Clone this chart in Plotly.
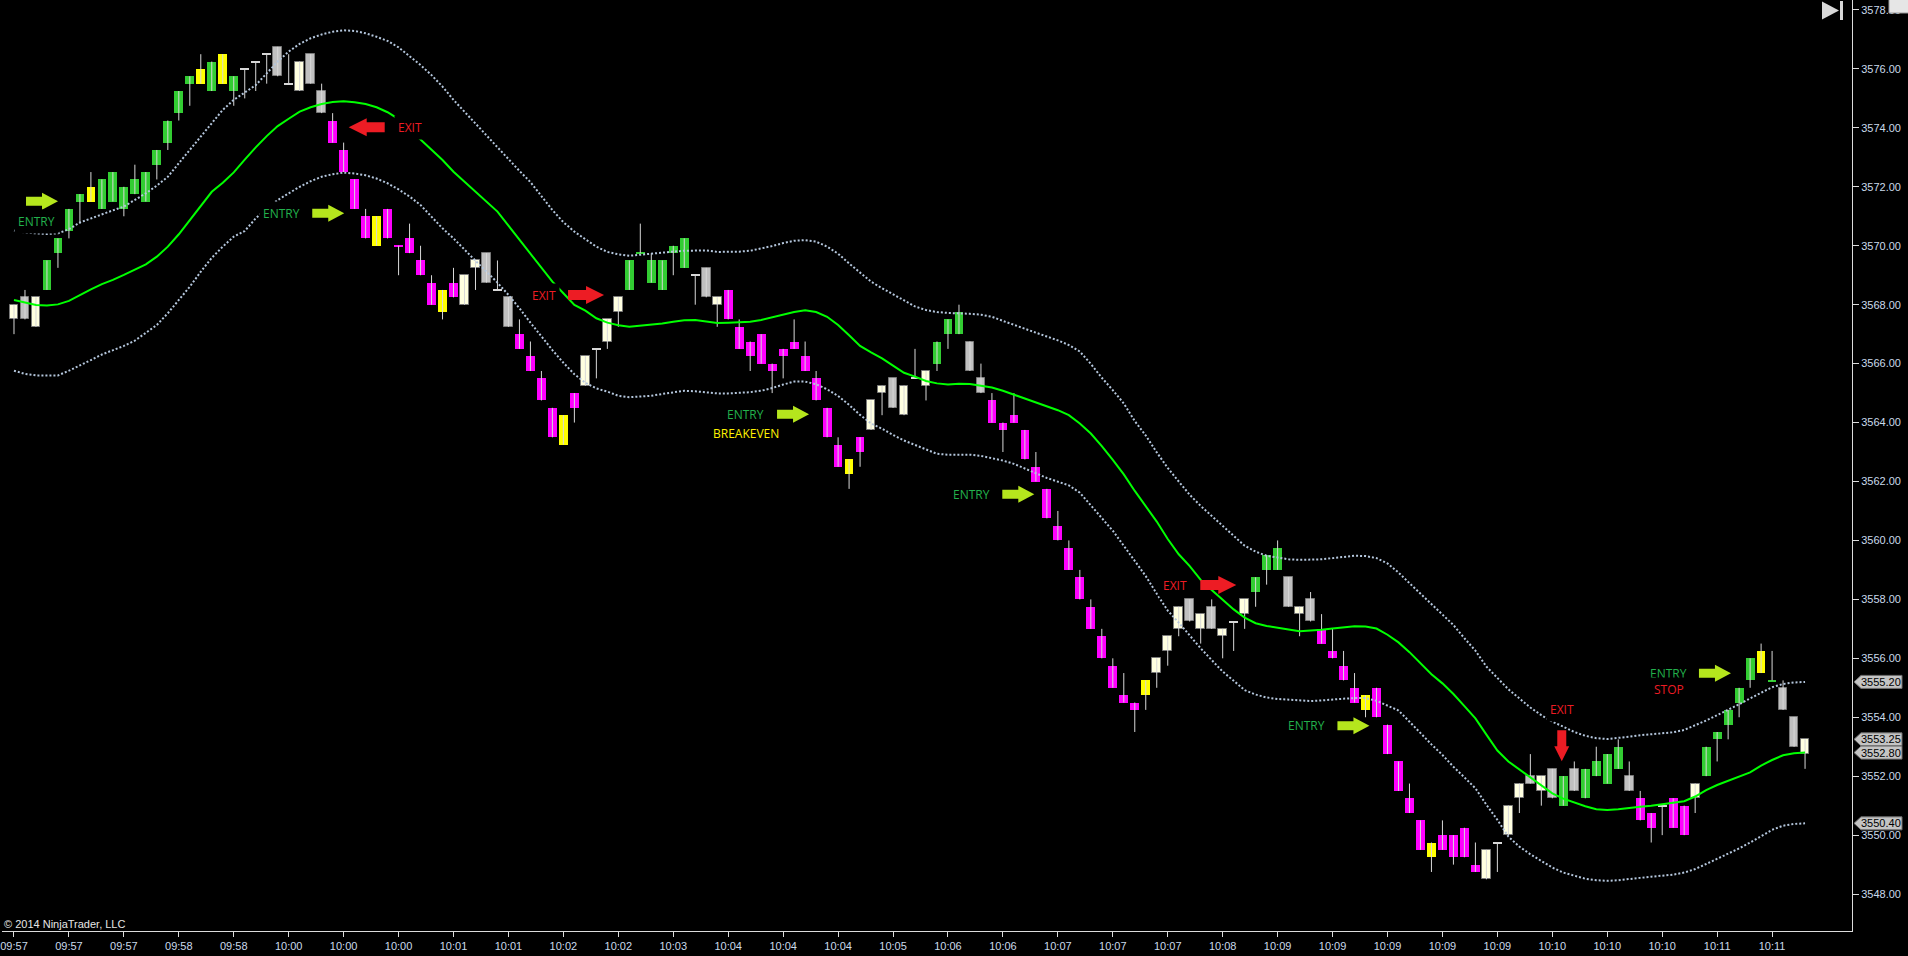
import plotly.graph_objects as go

# ---------------- DATA ----------------
opens = [
    3567.50, 3568.25, 3567.25, 3568.50, 3569.75, 3570.50, 3571.50, 3572.00, 3571.25, 3571.50,
    3571.25, 3571.75, 3571.50, 3572.75, 3573.50, 3574.50, 3575.50, 3576.00, 3575.25, 3576.50,
    3575.25, 3576.00, 3576.25, 3576.50, 3576.75, 3575.50, 3575.25, 3576.50, 3575.25, 3574.25,
    3573.25, 3572.25, 3571.00, 3571.00, 3571.25, 3570.00, 3570.25, 3569.50, 3568.75, 3568.50,
    3568.75, 3568.00, 3569.25, 3569.75, 3568.50, 3568.25, 3567.00, 3566.25, 3565.50, 3564.50,
    3564.25, 3565.00, 3565.25, 3566.50, 3566.75, 3567.75, 3568.50, 3569.75, 3568.75, 3568.50,
    3569.75, 3569.25, 3569.00, 3569.25, 3568.00, 3568.50, 3567.25, 3566.75, 3567.00, 3566.00,
    3566.50, 3566.75, 3566.25, 3565.50, 3564.50, 3563.25, 3562.75, 3563.50, 3563.75, 3565.00,
    3565.50, 3564.25, 3565.50, 3565.25, 3566.00, 3567.00, 3567.00, 3566.75, 3565.50, 3564.75,
    3564.00, 3564.25, 3563.75, 3562.50, 3561.75, 3560.50, 3559.75, 3558.75, 3557.75, 3556.75,
    3555.75, 3554.75, 3554.50, 3555.25, 3555.50, 3556.25, 3557.00, 3558.00, 3557.00, 3557.75,
    3556.75, 3557.25, 3557.50, 3558.25, 3559.00, 3559.00, 3558.75, 3557.50, 3558.00, 3557.00,
    3556.25, 3555.75, 3555.00, 3554.75, 3555.00, 3553.75, 3552.50, 3551.25, 3550.50, 3549.75,
    3550.00, 3550.00, 3550.25, 3549.00, 3548.50, 3549.75, 3550.00, 3551.25, 3552.00, 3551.50,
    3552.25, 3551.00, 3552.25, 3551.25, 3552.00, 3551.75, 3552.25, 3552.00, 3551.25, 3550.75,
    3551.00, 3551.25, 3551.00, 3551.25, 3552.00, 3553.25, 3553.75, 3554.50, 3555.25, 3556.25,
    3555.25, 3555.00, 3554.00, 3552.75,
]
highs = [
    3568.00, 3568.50, 3568.25, 3569.50, 3570.25, 3571.25, 3571.75, 3572.50, 3572.25, 3572.50,
    3572.00, 3572.75, 3572.50, 3573.25, 3574.25, 3575.25, 3575.75, 3576.50, 3576.25, 3576.50,
    3575.75, 3576.00, 3576.25, 3576.50, 3576.75, 3576.50, 3576.25, 3576.50, 3575.50, 3574.50,
    3573.50, 3572.25, 3571.25, 3571.00, 3571.25, 3570.00, 3570.75, 3570.00, 3569.00, 3568.50,
    3569.25, 3569.00, 3569.50, 3569.75, 3569.50, 3568.25, 3567.50, 3566.75, 3565.75, 3564.50,
    3564.25, 3565.00, 3566.25, 3566.50, 3567.50, 3568.25, 3569.50, 3570.75, 3569.75, 3569.50,
    3570.00, 3570.25, 3569.00, 3569.25, 3568.25, 3568.50, 3567.50, 3566.75, 3567.00, 3566.00,
    3566.50, 3567.50, 3566.75, 3565.75, 3564.50, 3563.50, 3562.75, 3563.50, 3564.75, 3565.25,
    3565.50, 3565.25, 3566.50, 3565.75, 3566.75, 3567.50, 3568.00, 3566.75, 3566.00, 3565.00,
    3564.00, 3565.00, 3563.75, 3563.00, 3561.75, 3561.00, 3560.00, 3559.00, 3558.00, 3557.00,
    3556.00, 3555.50, 3554.50, 3555.25, 3556.00, 3556.75, 3557.75, 3558.00, 3557.50, 3558.00,
    3557.00, 3557.25, 3558.00, 3558.75, 3559.50, 3560.00, 3558.75, 3557.75, 3558.25, 3557.50,
    3557.00, 3556.25, 3555.50, 3554.75, 3555.00, 3553.75, 3552.50, 3551.75, 3550.50, 3549.75,
    3550.50, 3550.00, 3550.25, 3549.75, 3549.50, 3549.75, 3551.00, 3551.75, 3552.75, 3552.00,
    3552.25, 3552.00, 3552.50, 3552.25, 3553.00, 3552.75, 3553.25, 3552.50, 3551.50, 3550.75,
    3551.00, 3551.25, 3551.00, 3551.75, 3553.00, 3553.50, 3554.25, 3555.00, 3556.00, 3556.50,
    3556.25, 3555.25, 3554.00, 3553.25,
]
lows = [
    3567.00, 3567.50, 3567.25, 3568.50, 3569.25, 3570.25, 3570.75, 3571.50, 3571.25, 3571.50,
    3571.00, 3571.75, 3571.50, 3572.25, 3573.25, 3574.25, 3574.75, 3575.50, 3575.25, 3575.50,
    3574.75, 3575.00, 3575.25, 3575.50, 3575.75, 3575.50, 3575.25, 3575.50, 3574.50, 3573.50,
    3572.50, 3571.25, 3570.25, 3570.00, 3570.25, 3569.00, 3569.75, 3569.00, 3568.00, 3567.50,
    3568.25, 3568.00, 3568.50, 3568.75, 3568.50, 3567.25, 3566.50, 3565.75, 3564.75, 3563.50,
    3563.25, 3564.00, 3565.25, 3565.50, 3566.50, 3567.25, 3568.50, 3569.75, 3568.75, 3568.50,
    3569.00, 3569.25, 3568.00, 3568.25, 3567.25, 3567.50, 3566.50, 3565.75, 3566.00, 3565.00,
    3565.50, 3566.50, 3565.75, 3564.75, 3563.50, 3562.50, 3561.75, 3562.50, 3563.75, 3564.25,
    3564.50, 3564.25, 3565.50, 3564.75, 3565.75, 3566.50, 3567.00, 3565.75, 3565.00, 3564.00,
    3563.00, 3564.00, 3562.75, 3562.00, 3560.75, 3560.00, 3559.00, 3558.00, 3557.00, 3556.00,
    3555.00, 3554.50, 3553.50, 3554.25, 3555.00, 3555.75, 3556.75, 3557.25, 3556.50, 3557.00,
    3556.00, 3556.25, 3557.00, 3557.75, 3558.50, 3559.00, 3557.75, 3556.75, 3557.25, 3556.50,
    3556.00, 3555.25, 3554.50, 3554.00, 3554.00, 3552.75, 3551.50, 3550.75, 3549.50, 3548.75,
    3549.50, 3549.00, 3549.25, 3548.75, 3548.50, 3548.75, 3550.00, 3550.75, 3551.75, 3551.00,
    3551.25, 3551.00, 3551.50, 3551.25, 3552.00, 3551.75, 3552.25, 3551.50, 3550.50, 3549.75,
    3550.00, 3550.25, 3550.00, 3550.75, 3552.00, 3552.50, 3553.25, 3554.00, 3555.00, 3555.50,
    3555.25, 3554.25, 3553.00, 3552.25,
]
closes = [
    3568.00, 3567.50, 3568.25, 3569.50, 3570.25, 3571.25, 3571.75, 3571.50, 3572.25, 3572.50,
    3572.00, 3572.25, 3572.50, 3573.25, 3574.25, 3575.25, 3575.75, 3575.50, 3576.25, 3575.50,
    3575.75, 3576.00, 3576.25, 3576.50, 3575.75, 3575.50, 3576.25, 3575.50, 3574.50, 3573.50,
    3572.50, 3571.25, 3570.25, 3570.00, 3570.25, 3570.00, 3569.75, 3569.00, 3568.00, 3567.75,
    3568.25, 3569.00, 3569.50, 3568.75, 3568.50, 3567.25, 3566.50, 3565.75, 3564.75, 3563.50,
    3563.25, 3564.50, 3566.25, 3566.50, 3567.50, 3568.25, 3569.50, 3569.75, 3569.50, 3569.50,
    3570.00, 3570.25, 3569.00, 3568.25, 3568.25, 3567.50, 3566.50, 3566.25, 3566.00, 3565.75,
    3566.25, 3566.50, 3565.75, 3564.75, 3563.50, 3562.50, 3562.25, 3563.00, 3564.75, 3565.25,
    3564.50, 3565.25, 3565.50, 3565.75, 3566.75, 3567.50, 3567.75, 3565.75, 3565.00, 3564.00,
    3563.75, 3564.00, 3562.75, 3562.00, 3560.75, 3560.00, 3559.00, 3558.00, 3557.00, 3556.00,
    3555.00, 3554.50, 3554.25, 3554.75, 3556.00, 3556.75, 3557.75, 3557.25, 3557.50, 3557.00,
    3557.00, 3557.25, 3558.00, 3558.75, 3559.50, 3559.75, 3557.75, 3557.75, 3557.25, 3556.50,
    3556.00, 3555.25, 3554.50, 3554.25, 3554.00, 3552.75, 3551.50, 3550.75, 3549.50, 3549.25,
    3549.50, 3549.25, 3549.25, 3548.75, 3549.50, 3549.75, 3551.00, 3551.75, 3551.75, 3552.00,
    3551.25, 3552.00, 3551.50, 3552.25, 3552.50, 3552.75, 3553.00, 3551.50, 3550.50, 3550.25,
    3551.00, 3550.25, 3550.00, 3551.75, 3553.00, 3553.50, 3554.25, 3555.00, 3556.00, 3555.50,
    3555.25, 3554.25, 3553.00, 3553.25,
]
# bar colour class: G green, M magenta, Y yellow, S silver, C cream
bar_class = list(
    "CSCGGGGYGG" "GGGGGGGYGY" "GSSSSSCSSM" "MMMYMMMMMY" "MCCSSSMMMM"
    "YMCSCCGGGG" "GGSSCMMMMM" "MMMMMMYMCC" "SCSCGGGSSM" "MMMMMMMMMM"
    "MMMYCCCSCS" "CSCGGGSCSM" "MMMYMMMMMY" "MMMMCSCCSC" "SGSGGGGSMM"
    "SMMCGGGGGY" "GSSC"
)
band_upper = [
    3570.52, 3570.45, 3570.42, 3570.40, 3570.42, 3570.56, 3570.79, 3570.93, 3571.08, 3571.20,
    3571.33, 3571.55, 3571.78, 3572.04, 3572.34, 3572.80, 3573.25, 3573.70, 3574.15, 3574.61,
    3574.95, 3575.20, 3575.45, 3575.85, 3576.25, 3576.59, 3576.85, 3577.04, 3577.17, 3577.26,
    3577.31, 3577.29, 3577.21, 3577.09, 3576.95, 3576.73, 3576.44, 3576.13, 3575.79, 3575.40,
    3574.95, 3574.55, 3574.15, 3573.72, 3573.32, 3572.94, 3572.54, 3572.16, 3571.70, 3571.21,
    3570.80, 3570.48, 3570.22, 3569.97, 3569.79, 3569.71, 3569.66, 3569.70, 3569.74, 3569.78,
    3569.80, 3569.83, 3569.83, 3569.84, 3569.79, 3569.79, 3569.80, 3569.83, 3569.90, 3569.99,
    3570.09, 3570.17, 3570.19, 3570.14, 3569.97, 3569.73, 3569.40, 3569.09, 3568.78, 3568.56,
    3568.35, 3568.13, 3567.94, 3567.82, 3567.75, 3567.72, 3567.71, 3567.69, 3567.66, 3567.59,
    3567.45, 3567.31, 3567.19, 3567.05, 3566.92, 3566.79, 3566.63, 3566.41, 3565.99, 3565.52,
    3565.10, 3564.65, 3564.05, 3563.56, 3562.99, 3562.46, 3562.00, 3561.55, 3561.17, 3560.83,
    3560.47, 3560.13, 3559.82, 3559.62, 3559.48, 3559.42, 3559.36, 3559.34, 3559.34, 3559.36,
    3559.40, 3559.45, 3559.48, 3559.47, 3559.40, 3559.22, 3558.91, 3558.55, 3558.20, 3557.85,
    3557.50, 3557.13, 3556.68, 3556.26, 3555.72, 3555.32, 3554.95, 3554.64, 3554.33, 3554.07,
    3553.85, 3553.68, 3553.50, 3553.37, 3553.29, 3553.26, 3553.29, 3553.34, 3553.39, 3553.43,
    3553.47, 3553.49, 3553.57, 3553.72, 3553.89, 3554.07, 3554.25, 3554.44, 3554.64, 3554.84,
    3555.02, 3555.13, 3555.18, 3555.20,
]
band_mid = [
    3568.16, 3568.07, 3567.99, 3567.97, 3568.01, 3568.13, 3568.33, 3568.52, 3568.70, 3568.84,
    3569.01, 3569.18, 3569.37, 3569.63, 3569.97, 3570.39, 3570.87, 3571.38, 3571.83, 3572.14,
    3572.49, 3572.92, 3573.34, 3573.72, 3574.06, 3574.31, 3574.55, 3574.70, 3574.81, 3574.88,
    3574.90, 3574.87, 3574.81, 3574.70, 3574.53, 3574.30, 3573.96, 3573.59, 3573.25, 3572.91,
    3572.51, 3572.17, 3571.83, 3571.50, 3571.16, 3570.68, 3570.20, 3569.71, 3569.23, 3568.78,
    3568.39, 3567.99, 3567.80, 3567.54, 3567.39, 3567.30, 3567.25, 3567.28, 3567.31, 3567.36,
    3567.42, 3567.47, 3567.48, 3567.44, 3567.38, 3567.39, 3567.40, 3567.42, 3567.48, 3567.57,
    3567.66, 3567.75, 3567.81, 3567.75, 3567.59, 3567.31, 3566.96, 3566.60, 3566.38, 3566.18,
    3565.93, 3565.69, 3565.56, 3565.41, 3565.33, 3565.29, 3565.32, 3565.31, 3565.25, 3565.19,
    3565.08, 3564.95, 3564.81, 3564.70, 3564.55, 3564.42, 3564.25, 3563.97, 3563.63, 3563.20,
    3562.73, 3562.24, 3561.68, 3561.17, 3560.64, 3560.05, 3559.53, 3559.13, 3558.66, 3558.32,
    3558.00, 3557.66, 3557.38, 3557.19, 3557.10, 3557.05, 3556.98, 3556.92, 3556.94, 3556.97,
    3557.01, 3557.04, 3557.09, 3557.08, 3557.01, 3556.80, 3556.54, 3556.21, 3555.83, 3555.46,
    3555.15, 3554.79, 3554.38, 3553.96, 3553.41, 3552.87, 3552.50, 3552.23, 3551.96, 3551.68,
    3551.42, 3551.24, 3551.10, 3550.98, 3550.88, 3550.85, 3550.88, 3550.91, 3550.96, 3551.00,
    3551.05, 3551.09, 3551.15, 3551.31, 3551.53, 3551.70, 3551.84, 3551.99, 3552.13, 3552.36,
    3552.55, 3552.71, 3552.78, 3552.80,
]
band_lower = [
    3565.76, 3565.65, 3565.60, 3565.59, 3565.60, 3565.76, 3565.93, 3566.12, 3566.31, 3566.46,
    3566.60, 3566.78, 3567.05, 3567.31, 3567.71, 3568.16, 3568.61, 3569.12, 3569.59, 3569.97,
    3570.31, 3570.50, 3570.93, 3571.27, 3571.55, 3571.78, 3572.00, 3572.19, 3572.34, 3572.43,
    3572.48, 3572.45, 3572.39, 3572.28, 3572.12, 3571.91, 3571.67, 3571.38, 3570.99, 3570.59,
    3570.25, 3569.86, 3569.49, 3569.12, 3568.75, 3568.33, 3567.88, 3567.39, 3566.92, 3566.46,
    3566.03, 3565.64, 3565.35, 3565.16, 3565.05, 3564.91, 3564.86, 3564.88, 3564.91, 3564.97,
    3565.03, 3565.08, 3565.06, 3565.03, 3564.99, 3564.99, 3565.00, 3565.03, 3565.08, 3565.17,
    3565.29, 3565.39, 3565.39, 3565.30, 3565.13, 3564.90, 3564.60, 3564.26, 3563.97, 3563.79,
    3563.58, 3563.39, 3563.24, 3563.09, 3562.94, 3562.91, 3562.91, 3562.91, 3562.87, 3562.80,
    3562.71, 3562.60, 3562.45, 3562.28, 3562.12, 3561.99, 3561.87, 3561.62, 3561.20, 3560.77,
    3560.33, 3559.82, 3559.31, 3558.79, 3558.19, 3557.62, 3557.21, 3556.76, 3556.34, 3555.94,
    3555.55, 3555.24, 3554.92, 3554.77, 3554.67, 3554.62, 3554.59, 3554.56, 3554.55, 3554.57,
    3554.61, 3554.63, 3554.65, 3554.65, 3554.56, 3554.40, 3554.23, 3553.85, 3553.46, 3553.08,
    3552.72, 3552.32, 3551.96, 3551.59, 3551.03, 3550.52, 3549.95, 3549.61, 3549.35, 3549.12,
    3548.90, 3548.73, 3548.62, 3548.52, 3548.47, 3548.45, 3548.47, 3548.50, 3548.55, 3548.59,
    3548.63, 3548.66, 3548.73, 3548.85, 3549.02, 3549.19, 3549.37, 3549.55, 3549.75, 3549.97,
    3550.18, 3550.32, 3550.38, 3550.40,
]
tick_labels = [
    "09:57", "09:57", "09:57", "09:58", "09:58", "10:00", "10:00", "10:00", "10:01", "10:01",
    "10:02", "10:02", "10:03", "10:04", "10:04", "10:04", "10:05", "10:06", "10:06", "10:07",
    "10:07", "10:07", "10:08", "10:09", "10:09", "10:09", "10:09", "10:09", "10:10", "10:10",
    "10:10", "10:11", "10:11",
]
price_ticks = [3548 + 2 * k for k in range(16)]

# trade signal labels (bar position, price)
signal_text = ["ENTRY", "ENTRY", "EXIT", "EXIT", "ENTRY", "BREAKEVEN", "ENTRY", "EXIT",
               "ENTRY", "EXIT", "ENTRY", "STOP"]
signal_kind = ["entry", "entry", "exit", "exit", "entry", "breakeven", "entry", "exit",
               "entry", "exit", "entry", "exit"]
signal_bar = [2.09, 24.36, 36.03, 48.2, 66.6, 66.6, 87.1, 105.7, 117.6, 140.9, 150.6, 150.6]
signal_price = [3570.82, 3571.08, 3574.02, 3568.30, 3564.28, 3563.64, 3561.57, 3558.47,
                3553.71, 3554.25, 3555.49, 3554.95]
arrow_bar = [2.55, 28.6, 32.1, 52.06, 70.9, 91.4, 109.6, 121.9, 140.86, 154.8]
arrow_price = [3571.51, 3571.10, 3574.02, 3568.33, 3564.28, 3561.57, 3558.49, 3553.71,
               3553.03, 3555.49]
arrow_dir = ["right", "right", "left", "right", "right", "right", "right", "right", "down", "right"]
arrow_kind = ["entry", "entry", "exit", "exit", "entry", "entry", "exit", "entry", "exit", "entry"]

# ---------------- STYLE ----------------
FILL = {"G": "#32CD32", "M": "#FF00FF", "Y": "#FFFF00", "S": "#C0C0C0", "C": "#FFFFE0"}
EDGE = {"G": "#32CD32", "M": "#FF00FF", "Y": "#FFFF00", "S": "#7A7A7A", "C": "#7A7A7A"}
TEXT_COL = {"entry": "#22B14C", "exit": "#ED1C24", "breakeven": "#FFF200"}
ARROW_COL = {"entry": "#B5E61D", "exit": "#ED1C24"}
AXIS_TXT = "#CADAEB"
N = len(opens)
xs = list(range(N))

fig = go.Figure()

# wicks
wx, wy = [], []
for i in xs:
    wx += [i, i, None]
    wy += [lows[i], highs[i], None]
fig.add_trace(go.Scatter(x=wx, y=wy, mode="lines", line=dict(color="#D8D8D8", width=1),
                         hoverinfo="skip", showlegend=False))

# bodies
bases, heights, fills, edges, ewidth = [], [], [], [], []
for i in xs:
    lo_b = min(opens[i], closes[i])
    hi_b = max(opens[i], closes[i])
    k = bar_class[i]
    doji = hi_b - lo_b < 1e-9
    bases.append(lo_b - (0.02 if doji else 0))
    heights.append(0.04 if doji else hi_b - lo_b)
    fills.append("#D8D8D8" if (doji and k == "S") else FILL[k])
    edges.append(EDGE[k])
    ewidth.append(0 if (doji or k in "GMY") else 1)
fig.add_trace(go.Bar(x=xs, y=heights, base=bases, width=0.8,
                     marker=dict(color=fills, line=dict(color=edges, width=ewidth)),
                     hoverinfo="skip", showlegend=False))

# bands
fig.add_trace(go.Scatter(x=xs, y=band_upper, mode="lines",
                         line=dict(color="#B4C6DC", width=2, dash="2px,2px"),
                         hoverinfo="skip", showlegend=False))
fig.add_trace(go.Scatter(x=xs, y=band_lower, mode="lines",
                         line=dict(color="#B4C6DC", width=2, dash="2px,2px"),
                         hoverinfo="skip", showlegend=False))
fig.add_trace(go.Scatter(x=xs, y=band_mid, mode="lines",
                         line=dict(color="#00FF00", width=2),
                         hoverinfo="skip", showlegend=False))

shapes = []
annotations = []


def poly(pts):
    return "M " + " L ".join(f"{x:.1f},{y:.1f}" for x, y in pts) + " Z"


def arrow_pts(direction, kind):
    if kind == "exit":
        L, sh, hw, hl = 36, 10, 18, 18
    else:
        L, sh, hw, hl = 32, 9, 17, 16
    h = L / 2
    right = [(-h, -sh / 2), (h - hl, -sh / 2), (h - hl, -hw / 2), (h, 0),
             (h - hl, hw / 2), (h - hl, sh / 2), (-h, sh / 2)]
    if direction == "right":
        return right
    if direction == "left":
        return [(-x, y) for x, y in right]
    # down: tip points downwards
    L, sh, hw, hl = 31, 9, 15, 15
    h = L / 2
    return [(-sh / 2, h), (-sh / 2, -h + hl), (-hw / 2, -h + hl), (0, -h),
            (hw / 2, -h + hl), (sh / 2, -h + hl), (sh / 2, h)]


for b, p, d, k in zip(arrow_bar, arrow_price, arrow_dir, arrow_kind):
    shapes.append(dict(type="path", xref="x", yref="y", xsizemode="pixel", ysizemode="pixel",
                       xanchor=b, yanchor=p, path=poly(arrow_pts(d, k)),
                       fillcolor=ARROW_COL[k], line=dict(width=0), layer="above"))

for t, k, b, p in zip(signal_text, signal_kind, signal_bar, signal_price):
    annotations.append(dict(x=b, y=p, xref="x", yref="y", text=t, showarrow=False,
                            font=dict(family="Open Sans", size=12, color=TEXT_COL[k]),
                            bgcolor="#000000", borderpad=3))

# price tags on the right axis
tag_values = [band_upper[-1], closes[-1], band_mid[-1], band_lower[-1]]
for v in tag_values:
    shapes.append(dict(type="path", xref="paper", yref="y", xsizemode="pixel", ysizemode="pixel",
                       xanchor=1, yanchor=v,
                       path=poly([(2, 0), (9, 6.5), (50, 6.5), (50, -6.5), (9, -6.5)]),
                       fillcolor="#C4C4C4", line=dict(color="#6E6E6E", width=1), layer="above"))
    annotations.append(dict(x=1, y=v, xref="paper", yref="y", xanchor="center", xshift=29,
                            text=f"{v:.2f}", showarrow=False,
                            font=dict(family="Liberation Sans", size=11, color="#000000")))

# chart navigation glyph (top right) and corner box
shapes.append(dict(type="path", xref="paper", yref="paper", xsizemode="pixel", ysizemode="pixel",
                   xanchor=1, yanchor=1, path=poly([(-30, -1.5), (-13, -10.5), (-30, -19.5)]),
                   fillcolor="#D8D8D8", line=dict(width=0), layer="above"))
shapes.append(dict(type="path", xref="paper", yref="paper", xsizemode="pixel", ysizemode="pixel",
                   xanchor=1, yanchor=1, path=poly([(-12, -1), (-9, -1), (-9, -20), (-12, -20)]),
                   fillcolor="#D8D8D8", line=dict(width=0), layer="above"))
shapes.append(dict(type="path", xref="paper", yref="paper", xsizemode="pixel", ysizemode="pixel",
                   xanchor=1, yanchor=1, path=poly([(37, 2), (58, 2), (58, -13), (37, -13)]),
                   fillcolor="#E6E6E6", line=dict(color="#9A9A9A", width=1), layer="above"))

annotations.append(dict(x=0, y=0, xref="paper", yref="paper", xanchor="left", yanchor="bottom",
                        xshift=0, yshift=-1, text="© 2014 NinjaTrader, LLC", showarrow=False,
                        font=dict(family="Liberation Sans", size=11, color="#E6E6E6")))

fig.update_layout(
    width=1908, height=956,
    margin=dict(l=0, r=56, t=0, b=25),
    paper_bgcolor="#000000", plot_bgcolor="#000000",
    showlegend=False, bargap=0, hovermode=False,
    shapes=shapes, annotations=annotations,
    xaxis=dict(range=[-12 / 11, 1840 / 11], tickmode="array",
               tickvals=[5 * k for k in range(len(tick_labels))], ticktext=tick_labels,
               showgrid=False, zeroline=False, showline=True, linecolor="#DCDCDC", linewidth=1,
               ticks="outside", ticklen=5, tickcolor="#DCDCDC", ticklabeloverflow="allow",
               tickfont=dict(family="Liberation Sans", size=11, color=AXIS_TXT), fixedrange=True),
    yaxis=dict(range=[3546.747, 3578.339], side="right", tickmode="array",
               tickvals=price_ticks, ticktext=[f"{v:.2f}" for v in price_ticks],
               showgrid=False, zeroline=False, showline=True, linecolor="#DCDCDC", linewidth=1,
               ticks="outside", ticklen=6, tickcolor="#DCDCDC", ticklabeloverflow="allow",
               tickfont=dict(family="Liberation Sans", size=11, color=AXIS_TXT), fixedrange=True),
)

fig.write_html("out.html", config={"displayModeBar": False},
               post_script="document.body.style.margin='0';document.body.style.overflow='hidden';")
